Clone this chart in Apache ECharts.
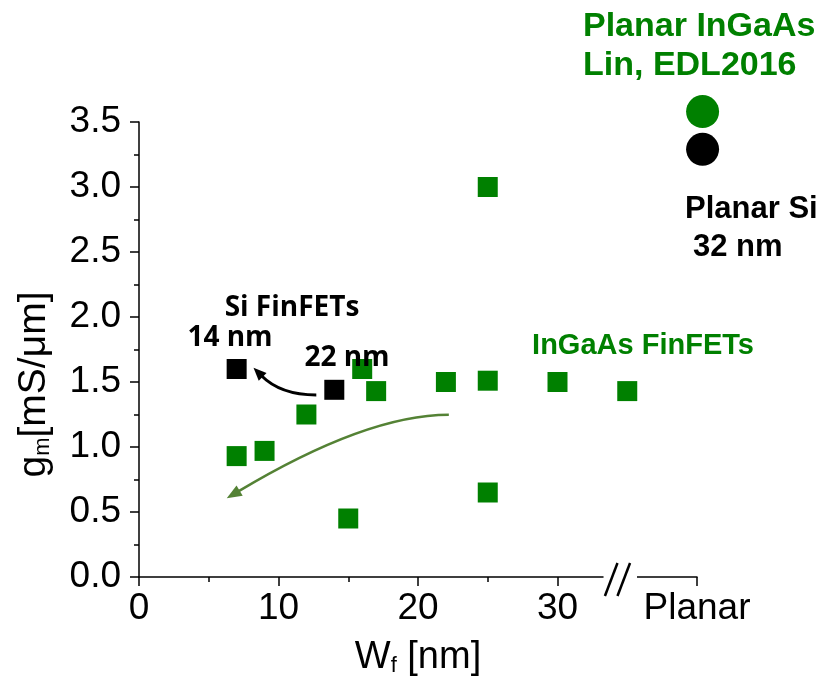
<!DOCTYPE html>
<html><head><meta charset="utf-8">
<script src="https://cdn.jsdelivr.net/npm/echarts@6/dist/echarts.min.js"></script>
<style>html,body{margin:0;padding:0;background:#fff}#c{width:824px;height:682px}</style>
</head><body><div id="c"></div>
<script>
// ---- data ----
const ingaasFinX = [7, 9, 12, 15, 16, 17, 22, 25, 25, 25, 30, 35];
const ingaasFinY = [0.93, 0.97, 1.25, 0.45, 1.60, 1.43, 1.50, 3.00, 1.51, 0.65, 1.50, 1.43];
const siFinX = [7, 14];
const siFinY = [1.60, 1.44];
const planarX = [40.4];
const planarInGaAsY = [3.58];
const planarSiY = [3.29];
const xTickLabels = ['0', '10', '20', '30', 'Planar'];
const yTickLabels = ['0.0', '0.5', '1.0', '1.5', '2.0', '2.5', '3.0', '3.5'];

const zip = (xs, ys) => xs.map((x, i) => [x, ys[i]]);
const SANS = 'Liberation Sans, Arial, Helvetica, sans-serif';
const OPEN = 'Open Sans, Noto Sans, sans-serif';
const GREEN = '#008000';
const ARROW_GREEN = '#548235';

const chart = echarts.init(document.getElementById('c'), null, {renderer: 'canvas'});

chart.setOption({
  backgroundColor: '#fff',
  animation: false,
  grid: {left: 137, right: 127, top: 122, bottom: 103, containLabel: false},
  xAxis: {
    type: 'value', min: 0, max: 40, interval: 10,
    axisLine: {show: true, onZero: false, lineStyle: {color: '#000', width: 1.5}},
    axisTick: {show: true, inside: false, length: 9, lineStyle: {color: '#000', width: 1.5}},
    minorTick: {show: true, splitNumber: 2, length: 5, lineStyle: {color: '#000', width: 1.5}},
    splitLine: {show: false},
    axisLabel: {
      margin: 13, color: '#000', fontSize: 37, fontFamily: SANS,
      formatter: v => xTickLabels[Math.round(v / 10)]
    },
    name: '{a|W}{s|f}{a| [nm]}',
    nameLocation: 'middle', nameGap: 62,
    nameTextStyle: {
      rich: {
        a: {fontSize: 38, fontFamily: SANS, color: '#000', lineHeight: 38, verticalAlign: 'top'},
        s: {fontSize: 22, fontFamily: SANS, color: '#000', lineHeight: 22, padding: [22, 0, 0, 0], verticalAlign: 'bottom'}
      }
    }
  },
  yAxis: {
    type: 'value', min: 0, max: 3.5, interval: 0.5,
    axisLine: {show: true, onZero: false, lineStyle: {color: '#000', width: 1.5}},
    axisTick: {show: true, inside: false, length: 9, lineStyle: {color: '#000', width: 1.5}},
    minorTick: {show: true, splitNumber: 2, length: 5, lineStyle: {color: '#000', width: 1.5}},
    splitLine: {show: false},
    axisLabel: {
      margin: 18, color: '#000', fontSize: 37, fontFamily: SANS,
      formatter: v => yTickLabels[Math.round(v / 0.5)]
    },
    name: '{a|g}{s|m}{a|[mS/μm]}',
    nameLocation: 'middle', nameGap: 85, nameRotate: 90,
    nameTextStyle: {
      padding: [0, 70, 0, 0],
      rich: {
        a: {fontSize: 39, fontFamily: SANS, color: '#000', lineHeight: 39, verticalAlign: 'top'},
        s: {fontSize: 22, fontFamily: SANS, color: '#000', lineHeight: 22, padding: [24, 0, 0, 0], verticalAlign: 'bottom'}
      }
    }
  },
  series: [
    {name: 'InGaAs FinFETs', type: 'scatter', symbol: 'rect', symbolSize: 20,
     itemStyle: {color: GREEN, opacity: 1}, data: zip(ingaasFinX, ingaasFinY), z: 3},
    {name: 'Si FinFETs', type: 'scatter', symbol: 'rect', symbolSize: 20,
     itemStyle: {color: '#000', opacity: 1}, data: zip(siFinX, siFinY), z: 3},
    {name: 'Planar InGaAs', type: 'scatter', symbol: 'circle', symbolSize: 33, clip: false,
     itemStyle: {color: GREEN, opacity: 1}, data: zip(planarX, planarInGaAsY), z: 3},
    {name: 'Planar Si', type: 'scatter', symbol: 'circle', symbolSize: 33, clip: false,
     itemStyle: {color: '#000', opacity: 1}, data: zip(planarX, planarSiY), z: 3}
  ]
});

// ---- annotations (positioned through the chart's coordinate system) ----
const P = p => chart.convertToPixel({gridIndex: 0}, p);

function curvedArrow(p0d, cd, p1d, color, width, headLen, headW) {
  const p0 = P(p0d), c = P(cd), p1 = P(p1d);
  let dx = p1[0] - c[0], dy = p1[1] - c[1];
  const L = Math.hypot(dx, dy); dx /= L; dy /= L;
  const base = [p1[0] - dx * headLen, p1[1] - dy * headLen];
  const nx = -dy, ny = dx;
  return [
    {type: 'bezierCurve', z: 50, silent: true,
     shape: {x1: p0[0], y1: p0[1], x2: base[0] + dx * 2, y2: base[1] + dy * 2, cpx1: c[0], cpy1: c[1]},
     style: {stroke: color, lineWidth: width, fill: null}},
    {type: 'polygon', z: 51, silent: true,
     shape: {points: [p1, [base[0] + nx * headW / 2, base[1] + ny * headW / 2], [base[0] - nx * headW / 2, base[1] - ny * headW / 2]]},
     style: {fill: color}}
  ];
}

function txt(x, y, text, size, color, family, align) {
  return {type: 'text', x: x, y: y, z: 60, silent: true,
    style: {text: text, fontSize: size, fontWeight: 'bold', fontFamily: family, fill: color,
      align: align || 'center', verticalAlign: 'middle'}};
}

const axisY = P([0, 0])[1];
const gx0 = P([33.3, 0])[0], gx1 = P([35.7, 0])[0];
const s1a = P([33.4, 0])[0], s1b = P([34.3, 0])[0];
const s2a = P([34.3, 0])[0], s2b = P([35.2, 0])[0];

const graphics = [
  // axis break
  {type: 'rect', z: 100, silent: true, shape: {x: gx0, y: axisY - 12, width: gx1 - gx0, height: 24}, style: {fill: '#fff'}},
  {type: 'line', z: 101, silent: true, shape: {x1: s1a, y1: axisY + 19, x2: s1b, y2: axisY - 14}, style: {stroke: '#000', lineWidth: 2.5}},
  {type: 'line', z: 101, silent: true, shape: {x1: s2a, y1: axisY + 19, x2: s2b, y2: axisY - 14}, style: {stroke: '#000', lineWidth: 2.5}},
  // arrows
  ...curvedArrow([12.71, 1.40], [10.14, 1.40], [8.21, 1.61], '#000', 3, 13, 11),
  ...curvedArrow([22.21, 1.248], [16.29, 1.248], [6.29, 0.605], ARROW_GREEN, 2.5, 15, 12),
  // labels
  txt(292, 308, 'Si FinFETs', 28, '#000', OPEN),
  txt(230, 338, '14 nm', 28, '#000', OPEN),
  txt(347, 358, '22 nm', 28, '#000', OPEN),
  txt(643, 346, 'InGaAs FinFETs', 29, GREEN, SANS),
  txt(583, 27, 'Planar InGaAs', 34, GREEN, SANS, 'left'),
  txt(583, 66, 'Lin, EDL2016', 34, GREEN, SANS, 'left'),
  txt(685, 209, 'Planar Si', 31, '#000', SANS, 'left'),
  txt(693, 247, '32 nm', 31, '#000', SANS, 'left')
];
chart.setOption({graphic: graphics});
</script>
</body></html>
